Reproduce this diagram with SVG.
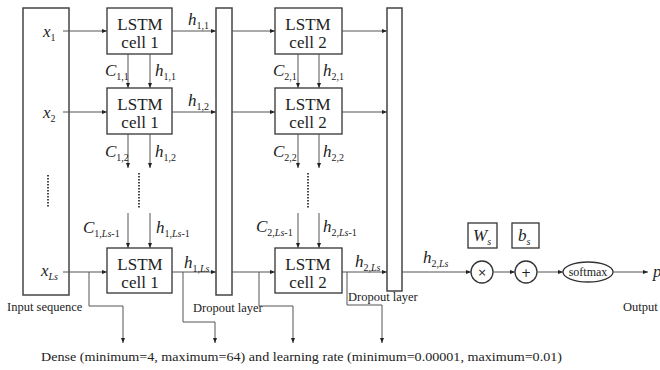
<svg xmlns="http://www.w3.org/2000/svg" width="660" height="370" viewBox="0 0 660 370" font-family="Liberation Serif, DejaVu Serif, serif">
  <style>
    .box { fill: #fff; stroke: #333; stroke-width: 1.3; }
    .bar { fill: #fff; stroke: #444; stroke-width: 1.5; }
    .ln { fill: none; stroke: #555; stroke-width: 1; }
    .dot { fill: none; stroke: #333; stroke-width: 1.8; stroke-dasharray: 1.6 1.4; }
    text { fill: #222; }
    .cell { font-size: 17px; text-anchor: middle; }
    .lbl { font-size: 17px; font-style: italic; }
    .sub { font-size: 10px; font-style: normal; }
    .it { font-style: italic; }
    .cap { font-size: 12.5px; }
  </style>
  <defs>
    <marker id="ah" viewBox="0 0 6 6" refX="6" refY="3" markerWidth="5" markerHeight="5" orient="auto" markerUnits="userSpaceOnUse">
      <path d="M0,0.6 L6,3 L0,5.4 Z" fill="#222"/>
    </marker>
  </defs>

  <rect width="660" height="370" fill="#fff"/>

  <!-- input sequence column -->
  <g id="input-sequence">
    <rect class="bar" x="23" y="8" width="46" height="287"/>
    <text class="lbl" x="43" y="37">x<tspan class="sub" dy="4">1</tspan></text>
    <text class="lbl" x="43" y="118">x<tspan class="sub" dy="4">2</tspan></text>
    <line class="dot" x1="48" y1="175" x2="48" y2="208"/>
    <text class="lbl" x="41" y="276">x<tspan class="sub it" dy="4">Ls</tspan></text>
    <text class="cap" x="7" y="311">Input sequence</text>
  </g>

  <!-- first LSTM layer -->
  <g id="lstm1-t1">
    <rect class="box" x="107" y="8" width="65" height="46"/>
    <text class="cell" x="140" y="30">LSTM</text>
    <text class="cell" x="140" y="48">cell 1</text>
  </g>
  <g id="lstm1-t2">
    <rect class="box" x="107" y="88" width="65" height="46"/>
    <text class="cell" x="140" y="110">LSTM</text>
    <text class="cell" x="140" y="128">cell 1</text>
  </g>
  <g id="lstm1-tLs">
    <rect class="box" x="107" y="248" width="65" height="45"/>
    <text class="cell" x="140" y="270">LSTM</text>
    <text class="cell" x="140" y="288">cell 1</text>
  </g>

  <!-- first dropout layer -->
  <g id="dropout1">
    <rect class="bar" x="216" y="8" width="16" height="287"/>
    <text class="cap" x="193" y="312">Dropout layer</text>
  </g>

  <!-- second LSTM layer -->
  <g id="lstm2-t1">
    <rect class="box" x="275" y="8" width="67" height="46"/>
    <text class="cell" x="308" y="30">LSTM</text>
    <text class="cell" x="308" y="48">cell 2</text>
  </g>
  <g id="lstm2-t2">
    <rect class="box" x="275" y="88" width="67" height="46"/>
    <text class="cell" x="308" y="110">LSTM</text>
    <text class="cell" x="308" y="128">cell 2</text>
  </g>
  <g id="lstm2-tLs">
    <rect class="box" x="275" y="248" width="67" height="45"/>
    <text class="cell" x="308" y="270">LSTM</text>
    <text class="cell" x="308" y="288">cell 2</text>
  </g>

  <!-- second dropout layer -->
  <g id="dropout2">
    <rect class="bar" x="387" y="8" width="15" height="283"/>
    <text class="cap" x="348" y="301">Dropout layer</text>
  </g>

  <!-- dense output stage -->
  <g id="weight">
    <rect class="box" x="468" y="223" width="29" height="25"/>
    <text class="lbl" x="473" y="241">W<tspan class="sub it" dy="4">s</tspan></text>
  </g>
  <g id="bias">
    <rect class="box" x="512" y="223" width="27" height="25"/>
    <text class="lbl" x="518" y="241">b<tspan class="sub it" dy="4">s</tspan></text>
  </g>
  <g id="multiply">
    <circle class="box" cx="482" cy="272" r="11"/>
    <text x="482" y="276" font-family="DejaVu Sans, sans-serif" font-size="11" text-anchor="middle">×</text>
  </g>
  <g id="add">
    <circle class="box" cx="526" cy="272" r="11"/>
    <text x="526" y="276.5" font-family="DejaVu Sans, sans-serif" font-size="12" text-anchor="middle">+</text>
  </g>
  <g id="softmax">
    <ellipse class="box" cx="588" cy="272" rx="25" ry="10"/>
    <text x="588" y="276" font-size="12" text-anchor="middle">softmax</text>
  </g>
  <g id="output">
    <text class="lbl" x="653" y="277">p</text>
    <text class="cap" x="623" y="311">Output</text>
  </g>

  <g id="caption">
    <text class="cap" x="41" y="361" textLength="521" lengthAdjust="spacingAndGlyphs">Dense (minimum=4, maximum=64) and learning rate (minimum=0.00001, maximum=0.01)</text>
  </g>

  <!-- connectors -->
  <g id="connectors">
    <!-- inputs into the first layer -->
    <line class="ln" x1="63" y1="31" x2="107" y2="31" marker-end="url(#ah)"/>
    <line class="ln" x1="63" y1="112" x2="107" y2="112" marker-end="url(#ah)"/>
    <line class="ln" x1="63" y1="272" x2="107" y2="272" marker-end="url(#ah)"/>

    <!-- first layer into dropout 1 -->
    <line class="ln" x1="172" y1="31" x2="216" y2="31" marker-end="url(#ah)"/>
    <line class="ln" x1="172" y1="112" x2="216" y2="112" marker-end="url(#ah)"/>
    <line class="ln" x1="172" y1="272" x2="216" y2="272" marker-end="url(#ah)"/>

    <!-- dropout 1 into the second layer -->
    <line class="ln" x1="232" y1="31" x2="275" y2="31" marker-end="url(#ah)"/>
    <line class="ln" x1="232" y1="112" x2="275" y2="112" marker-end="url(#ah)"/>
    <line class="ln" x1="232" y1="272" x2="275" y2="272" marker-end="url(#ah)"/>

    <!-- second layer into dropout 2 -->
    <line class="ln" x1="342" y1="31" x2="387" y2="31" marker-end="url(#ah)"/>
    <line class="ln" x1="342" y1="112" x2="387" y2="112" marker-end="url(#ah)"/>
    <line class="ln" x1="342" y1="272" x2="387" y2="272" marker-end="url(#ah)"/>

    <!-- cell / hidden state hand-over, layer 1 -->
    <line class="ln" x1="128" y1="54" x2="128" y2="88" marker-end="url(#ah)"/>
    <line class="ln" x1="150" y1="54" x2="150" y2="88" marker-end="url(#ah)"/>
    <line class="ln" x1="128" y1="134" x2="128" y2="168" marker-end="url(#ah)"/>
    <line class="ln" x1="150" y1="134" x2="150" y2="168" marker-end="url(#ah)"/>
    <line class="dot" x1="139" y1="173" x2="139" y2="208"/>
    <line class="ln" x1="128" y1="213" x2="128" y2="248" marker-end="url(#ah)"/>
    <line class="ln" x1="150" y1="213" x2="150" y2="248" marker-end="url(#ah)"/>

    <!-- cell / hidden state hand-over, layer 2 -->
    <line class="ln" x1="298" y1="54" x2="298" y2="88" marker-end="url(#ah)"/>
    <line class="ln" x1="319" y1="54" x2="319" y2="88" marker-end="url(#ah)"/>
    <line class="ln" x1="298" y1="134" x2="298" y2="168" marker-end="url(#ah)"/>
    <line class="ln" x1="319" y1="134" x2="319" y2="168" marker-end="url(#ah)"/>
    <line class="dot" x1="308" y1="173" x2="308" y2="208"/>
    <line class="ln" x1="298" y1="213" x2="298" y2="248" marker-end="url(#ah)"/>
    <line class="ln" x1="319" y1="213" x2="319" y2="248" marker-end="url(#ah)"/>

    <!-- output stage -->
    <line class="ln" x1="402" y1="272" x2="471" y2="272" marker-end="url(#ah)"/>
    <line class="ln" x1="493" y1="272" x2="515" y2="272" marker-end="url(#ah)"/>
    <line class="ln" x1="537" y1="272" x2="563" y2="272" marker-end="url(#ah)"/>
    <line class="ln" x1="613" y1="272" x2="648" y2="272" marker-end="url(#ah)"/>

    <!-- hyper-parameter taps -->
    <path class="ln" d="M89,272 V306 H123 V343" marker-end="url(#ah)"/>
    <path class="ln" d="M183,272 V322 H215 V343" marker-end="url(#ah)"/>
    <path class="ln" d="M259,272 V306 H293 V343" marker-end="url(#ah)"/>
    <path class="ln" d="M347,272 V305 H382 V343" marker-end="url(#ah)"/>
  </g>

  <!-- state labels -->
  <g id="labels">
    <text class="lbl" x="188" y="25">h<tspan class="sub" dy="4">1,1</tspan></text>
    <text class="lbl" x="188" y="106">h<tspan class="sub" dy="4">1,2</tspan></text>
    <text class="lbl" x="184" y="268">h<tspan class="sub" dy="4">1,<tspan class="it">Ls</tspan></tspan></text>

    <text class="lbl" x="105" y="76">C<tspan class="sub" dy="4">1,1</tspan></text>
    <text class="lbl" x="155" y="76">h<tspan class="sub" dy="4">1,1</tspan></text>
    <text class="lbl" x="105" y="157">C<tspan class="sub" dy="4">1,2</tspan></text>
    <text class="lbl" x="155" y="157">h<tspan class="sub" dy="4">1,2</tspan></text>
    <text class="lbl" x="83" y="233">C<tspan class="sub" dy="4">1,<tspan class="it">Ls</tspan>-1</tspan></text>
    <text class="lbl" x="156" y="233">h<tspan class="sub" dy="4">1,<tspan class="it">Ls</tspan>-1</tspan></text>

    <text class="lbl" x="273" y="76">C<tspan class="sub" dy="4">2,1</tspan></text>
    <text class="lbl" x="323" y="76">h<tspan class="sub" dy="4">2,1</tspan></text>
    <text class="lbl" x="273" y="157">C<tspan class="sub" dy="4">2,2</tspan></text>
    <text class="lbl" x="323" y="157">h<tspan class="sub" dy="4">2,2</tspan></text>
    <text class="lbl" x="256" y="232">C<tspan class="sub" dy="4">2,<tspan class="it">Ls</tspan>-1</tspan></text>
    <text class="lbl" x="323" y="232">h<tspan class="sub" dy="4">2,<tspan class="it">Ls</tspan>-1</tspan></text>

    <text class="lbl" x="355" y="267">h<tspan class="sub" dy="4">2,<tspan class="it">Ls</tspan></tspan></text>
    <text class="lbl" x="423" y="263">h<tspan class="sub" dy="4">2,<tspan class="it">Ls</tspan></tspan></text>
  </g>
</svg>
